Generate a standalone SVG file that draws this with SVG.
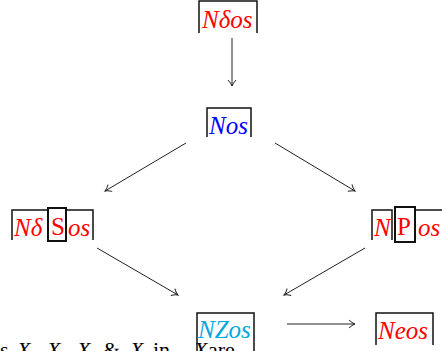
<svg xmlns="http://www.w3.org/2000/svg" width="442" height="351" viewBox="0 0 442 351">
<defs>
<marker id="ah" markerWidth="10" markerHeight="10" refX="8" refY="5" orient="auto" markerUnits="userSpaceOnUse">
<path d="M2,1 Q5,4 8,5 Q5,6 2,9" fill="none" stroke="#222" stroke-width="1"/>
</marker>
<style>
.bx{fill:none;stroke:#111;stroke-width:1.5}
.bt{fill:none;stroke:#111;stroke-width:2}
.t{font-family:"Liberation Serif","DejaVu Serif",serif;font-size:25px;font-style:italic}
.u{font-style:normal}
.red{fill:#ff0000}
.blue{fill:#0000ff}
.cyan{fill:#00a8e0}
.cn{stroke:#222;stroke-width:1;fill:none;marker-end:url(#ah)}
.bot{font-family:"Liberation Serif","DejaVu Serif",serif;font-size:22px;fill:#000}
</style>
</defs>
<rect width="442" height="351" fill="#fff"/>
<g id="connectors">
<line class="cn" x1="232" y1="38" x2="232" y2="86"/>
<line class="cn" x1="186" y1="143" x2="105" y2="191"/>
<line class="cn" x1="275" y1="143" x2="355" y2="191"/>
<line class="cn" x1="97" y1="248" x2="178" y2="295"/>
<line class="cn" x1="365" y1="248" x2="284" y2="295"/>
<line class="cn" x1="287" y1="324" x2="355" y2="324"/>
</g>
<g id="n1">
<path class="bx" d="M199,33 V1 H257 V33"/>
<text class="t red" x="202" y="28">Nδos</text>
</g>
<g id="n2">
<path class="bx" d="M207,137 V108 H251 V137"/>
<text class="t blue" x="209" y="134">Nos</text>
</g>
<g id="n3">
<path class="bx" d="M12,240 V210 H48"/>
<path class="bx" d="M66,210 H93 V240"/>
<rect class="bt" x="48" y="208" width="18" height="33"/>
<text class="t red" x="14" y="236">Nδ</text>
<text class="t red u" x="51" y="235">S</text>
<text class="t red" x="68" y="236">os</text>
</g>
<g id="n4">
<path class="bx" d="M372,240 V210 H392 V240"/>
<rect class="bt" x="395" y="207" width="20" height="35"/>
<path class="bx" d="M415,210 H442"/>
<text class="t red" x="374" y="236">N</text>
<text class="t red u" x="397" y="235">P</text>
<text class="t red" x="418" y="236">os</text>
</g>
<g id="n5">
<path class="bx" d="M197,351 V313 H254 V351"/>
<text class="t cyan" x="198" y="338">NZos</text>
</g>
<g id="n6">
<path class="bx" d="M376,345 V313 H433 V345"/>
<text class="t red" x="378" y="339">Neos</text>
</g>
<text class="bot" y="357"><tspan x="0">s</tspan><tspan x="17" font-style="italic">X</tspan><tspan x="47" font-style="italic">X</tspan><tspan x="77" font-style="italic">X</tspan><tspan x="103">&amp;</tspan><tspan x="130" font-style="italic">X</tspan><tspan x="153">in</tspan><tspan x="194" font-style="italic">X</tspan><tspan x="208">are</tspan></text>
</svg>
